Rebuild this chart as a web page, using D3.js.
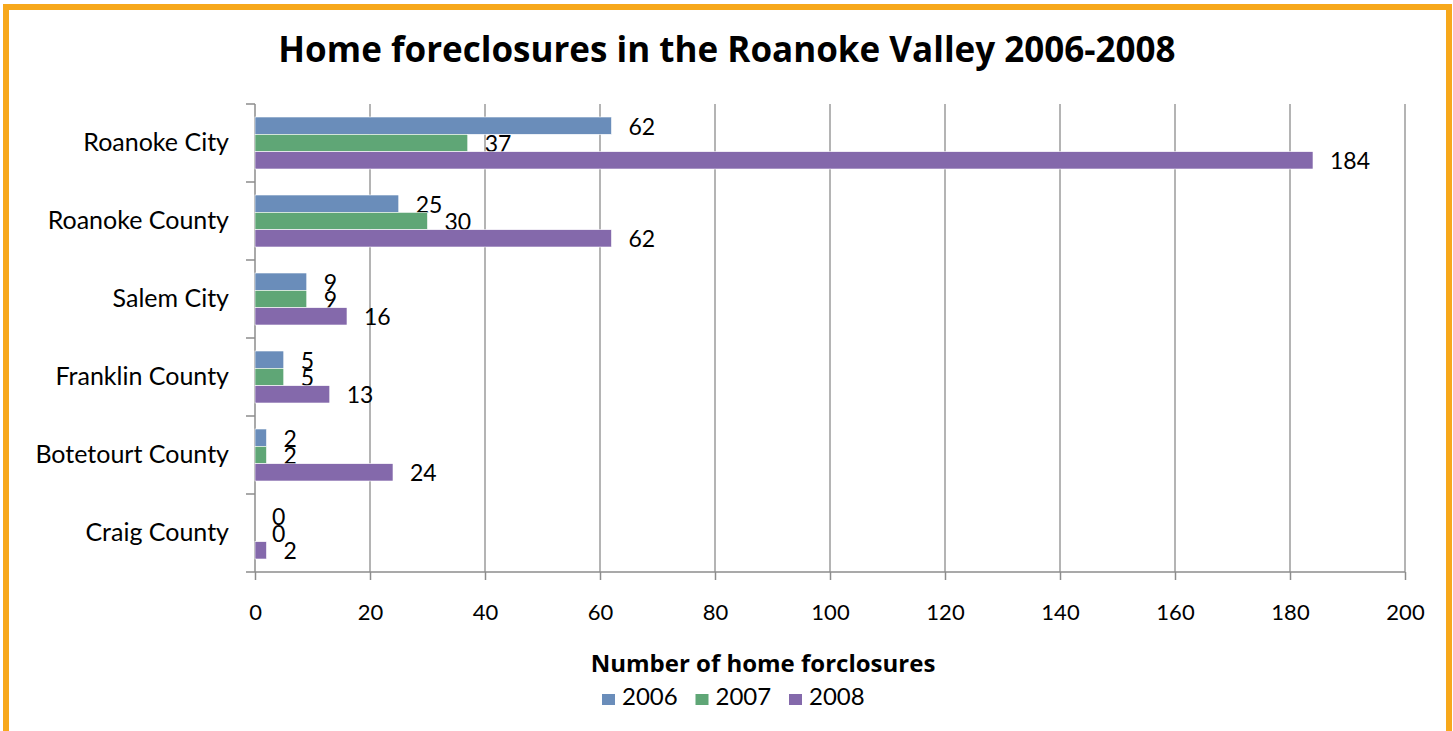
<!DOCTYPE html>
<html>
<head>
<meta charset="utf-8">
<script src="https://cdn.jsdelivr.net/npm/d3@7/dist/d3.min.js"></script>
<style>
  body { margin: 0; background: #fff; }
  svg text { font-family: Lato, "Open Sans", sans-serif; fill: #000; }
</style>
</head>
<body>
<svg width="1453" height="731"></svg>
<script>
// chart data
var areas = ['Roanoke City', 'Roanoke County', 'Salem City', 'Franklin County', 'Botetourt County', 'Craig County'];
var years = ['2006', '2007', '2008'];
var v2006 = [62, 25, 9, 5, 2, 0];
var v2007 = [37, 30, 9, 5, 2, 0];
var v2008 = [184, 62, 16, 13, 24, 2];
var xTicks = [0, 20, 40, 60, 80, 100, 120, 140, 160, 180, 200];
var colors = ['#6a8dba', '#5fa676', '#8469ab'];

var svg = d3.select('svg');

// orange frame
svg.append('rect')
  .attr('x', 6).attr('y', 7)
  .attr('width', 1443).attr('height', 740)
  .attr('fill', 'none')
  .attr('stroke', '#f7a81b')
  .attr('stroke-width', 6);

var plotL = 255, plotR = 1405, plotT = 104, plotB = 572;

var x = d3.scaleLinear().domain([0, 200]).range([plotL, plotR]);
var y = d3.scaleBand().domain(areas).range([plotT, plotB]).paddingInner(0).paddingOuter(0);
var y1 = d3.scaleBand().domain(years).range([0, y.bandwidth()]).paddingInner(0).paddingOuter(0.75);

// title
svg.append('text')
  .attr('x', 727).attr('y', 62)
  .attr('text-anchor', 'middle')
  .style('font-family', '"Open Sans", sans-serif')
  .style('font-size', '35px')
  .style('font-weight', 'bold')
  .text('Home foreclosures in the Roanoke Valley 2006-2008');

// gridlines
svg.append('g')
  .selectAll('line')
  .data(xTicks.slice(1))
  .enter()
  .append('line')
  .attr('x1', d => x(d)).attr('x2', d => x(d))
  .attr('y1', plotT).attr('y2', plotB)
  .attr('stroke', '#8c8c8c')
  .attr('stroke-width', 1.3);

// x axis
var xAxis = svg.append('g')
  .attr('transform', 'translate(0,' + plotB + ')')
  .call(d3.axisBottom(x).tickValues(xTicks).tickSize(8).tickPadding(24));
xAxis.selectAll('path, line').attr('stroke', '#8c8c8c').attr('stroke-width', 1.5);
xAxis.select('.domain').attr('d', 'M' + plotL + ',0H' + plotR);
xAxis.selectAll('text').style('font-size', '22px').style('font-family', 'Lato, sans-serif');

// y axis with ticks between categories
var yAxis = svg.append('g');
yAxis.append('line')
  .attr('x1', plotL).attr('x2', plotL)
  .attr('y1', plotT).attr('y2', plotB)
  .attr('stroke', '#8c8c8c').attr('stroke-width', 1.5);
yAxis.selectAll('.tk')
  .data(areas.concat(['end']))
  .enter()
  .append('line')
  .attr('x1', plotL - 9).attr('x2', plotL)
  .attr('y1', (d, i) => plotT + i * y.bandwidth())
  .attr('y2', (d, i) => plotT + i * y.bandwidth())
  .attr('stroke', '#8c8c8c').attr('stroke-width', 1.5);
yAxis.selectAll('text')
  .data(areas)
  .enter()
  .append('text')
  .attr('x', 229)
  .attr('y', d => y(d) + y.bandwidth() / 2 + 8)
  .attr('text-anchor', 'end')
  .style('font-size', '25px')
  .text(d => d);

// bars
var series = [v2006, v2007, v2008];
var groups = svg.append('g')
  .selectAll('g')
  .data(years)
  .enter()
  .append('g');

groups.each(function(yr, si) {
  var g = d3.select(this);
  var rows = areas.map((a, i) => ({ area: a, value: series[si][i] }));
  g.selectAll('rect')
    .data(rows)
    .enter()
    .append('rect')
    .attr('x', x(0))
    .attr('y', d => y(d.area) + y1(yr))
    .attr('width', d => x(d.value) - x(0))
    .attr('height', y1.bandwidth())
    .attr('fill', colors[si])
    .attr('stroke', '#fff')
    .attr('stroke-width', 0.6);
  g.selectAll('text')
    .data(rows)
    .enter()
    .append('text')
    .attr('x', d => x(d.value) + 17)
    .attr('y', d => y(d.area) + y1(yr) + y1.bandwidth() / 2 + 9)
    .style('font-size', '23px')
    .text(d => d.value);
});

// x axis title
svg.append('text')
  .attr('x', 763).attr('y', 672)
  .attr('text-anchor', 'middle')
  .style('font-family', '"Open Sans", sans-serif')
  .style('font-size', '24px')
  .style('font-weight', 'bold')
  .text('Number of home forclosures');

// legend
var legend = svg.append('g')
  .selectAll('g')
  .data(years)
  .enter()
  .append('g')
  .attr('transform', (d, i) => 'translate(' + (602 + i * 93.5) + ',694)');
legend.append('rect')
  .attr('width', 13).attr('height', 11)
  .attr('fill', (d, i) => colors[i]);
legend.append('text')
  .attr('x', 20).attr('y', 11)
  .style('font-size', '24px')
  .text(d => d);
</script>
</body>
</html>
